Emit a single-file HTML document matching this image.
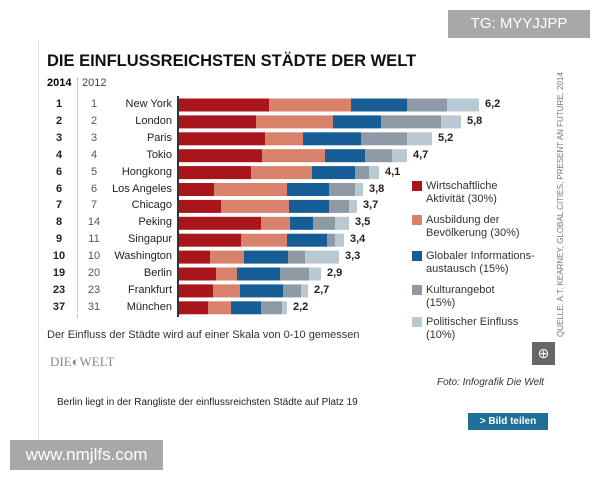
<!DOCTYPE html><html><head><meta charset="utf-8"><style>
body{margin:0;width:600px;height:480px;background:#fff;position:relative;overflow:hidden;font-family:"Liberation Sans",sans-serif}
.a{position:absolute;white-space:nowrap}
.r{font-size:11px;color:#222}
</style></head><body>
<div class="a" style="left:38px;top:40px;width:1px;height:400px;background:#e4e4e4"></div>
<div class="a" style="left:448px;top:10px;width:142px;height:28px;background:#a8a8a8;color:#fff;font-size:15px;line-height:28px;text-align:center">TG: MYYJJPP</div>
<div class="a" style="left:47px;top:52px;font-size:16.5px;font-weight:bold;color:#111">DIE EINFLUSSREICHSTEN STÄDTE DER WELT</div>
<div class="a" style="left:47px;top:77px;font-size:11px;font-weight:bold">2014</div>
<div class="a" style="left:82px;top:77px;font-size:11px;color:#444">2012</div>
<div class="a" style="left:77px;top:78px;height:240px;border-left:1px dotted #aaa"></div>
<div class="a" style="left:177px;top:96px;width:2px;height:221px;background:#333"></div>
<svg class="a" style="left:0;top:0" width="600" height="480" id="s"></svg>
<div id="rows"></div>
<div class="a" style="left:47px;top:329px;font-size:11px;color:#333">Der Einfluss der Städte wird auf einer Skala von 0-10 gemessen</div>
<div class="a" style="left:50px;top:354px;font-family:'Liberation Serif',serif;font-size:13px;color:#888">DIE◐WELT</div>
<div class="a" style="left:532px;top:342px;width:23px;height:23px;background:#666;color:#fff;font-size:14px;text-align:center;line-height:23px">⊕</div>
<div class="a" style="left:437px;top:377px;font-size:10px;font-style:italic;color:#333">Foto: Infografik Die Welt</div>
<div class="a" style="left:57px;top:397px;font-size:10px;color:#222">Berlin liegt in der Rangliste der einflussreichsten Städte auf Platz 19</div>
<div class="a" style="left:468px;top:413px;width:80px;height:17px;background:#1f6f99;color:#fff;font-size:10px;font-weight:bold;line-height:17px;text-align:center">&gt; Bild teilen</div>
<div class="a" style="left:10px;top:440px;width:153px;height:30px;background:#a8a8a8;color:#fff;font-size:17px;line-height:30px;text-align:center">www.nmjlfs.com</div>
<div class="a" style="left:556px;top:337px;transform:rotate(-90deg);transform-origin:0 0;font-size:8px;color:#777">QUELLE: A.T. KEARNEY, GLOBAL CITIES, PRESENT AN FUTURE, 2014</div>
<script>
var C=["#a8151b","#d9826b","#155d94","#8e9ba6","#b9c9d4"];
var D=[["1","1","New York",[269,351,407,447,479],"6,2"],["2","2","London",[256,333,381,441,461],"5,8"],["3","3","Paris",[265,303,361,407,432],"5,2"],["4","4","Tokio",[262,325,365,392,407],"4,7"],["6","5","Hongkong",[251,312,355,369,379],"4,1"],["6","6","Los Angeles",[214,287,329,355,363],"3,8"],["7","7","Chicago",[221,289,329,349,357],"3,7"],["8","14","Peking",[261,290,313,335,349],"3,5"],["9","11","Singapur",[241,287,327,335,344],"3,4"],["10","10","Washington",[210,244,288,305,339],"3,3"],["19","20","Berlin",[216,237,280,309,321],"2,9"],["23","23","Frankfurt",[213,240,283,301,308],"2,7"],["37","31","München",[208,231,261,282,287],"2,2"]];
var s="",h="";
D.forEach(function(d,i){var y=105+i*16.9;var x=179;d[3].forEach(function(e,j){s+='<rect x="'+x+'" y="'+(y-6.5)+'" width="'+(e-x)+'" height="13" fill="'+C[j]+'"/>';x=e;});
h+='<div class="a r" style="left:47px;width:24px;text-align:center;top:'+(y-7)+'px;font-weight:bold">'+d[0]+'</div><div class="a r" style="left:84px;width:20px;text-align:center;top:'+(y-7)+'px;color:#555">'+d[1]+'</div><div class="a r" style="left:100px;width:72px;text-align:right;top:'+(y-7)+'px">'+d[2]+'</div><div class="a r" style="left:'+(x+6)+'px;top:'+(y-7)+'px;font-weight:bold">'+d[4]+'</div>';});
var L=[["Wirtschaftliche","Aktivität (30%)",180],["Ausbildung der","Bevölkerung (30%)",214],["Globaler Informations-","austausch (15%)",250],["Kulturangebot","(15%)",284],["Politischer Einfluss","(10%)",316]];
L.forEach(function(l,i){s+='<rect x="412" y="'+(l[2]+1)+'" width="10" height="10" fill="'+C[i]+'"/>';h+='<div class="a" style="left:426px;top:'+l[2]+'px;font-size:11px;line-height:13px;color:#333">'+l[0]+'<br>'+l[1]+'</div>';});
document.getElementById("s").innerHTML=s;document.getElementById("rows").innerHTML=h;
</script>
</body></html>
